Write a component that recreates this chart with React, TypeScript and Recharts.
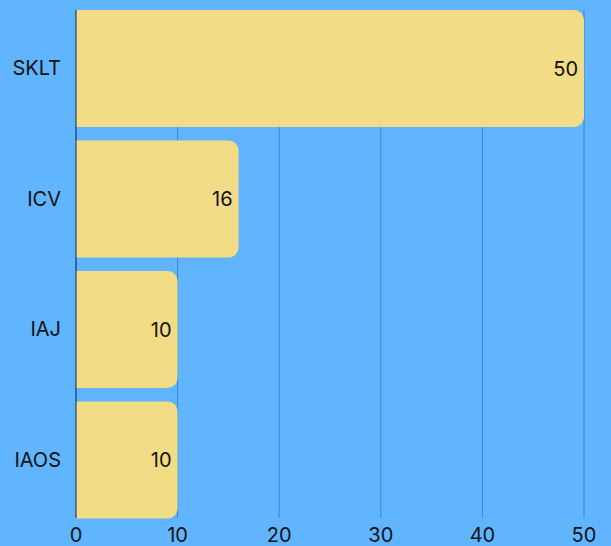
import { BarChart, Bar, XAxis, YAxis, CartesianGrid, LabelList } from 'recharts'

const categories = ['SKLT', 'ICV', 'IAJ', 'IAOS']
const counts = [50, 16, 10, 10]
const xTicks = [0, 10, 20, 30, 40, 50]

const data = categories.map((name, i) => ({ name, value: counts[i] }))

export default function App() {
  return (
    <div style={{ position: 'absolute', left: 0, top: 0, width: 611, height: 546, background: '#60b5fe', fontFamily: 'Inter, sans-serif' }}>
      <BarChart
        width={611}
        height={546}
        data={data}
        layout="vertical"
        margin={{ top: 10, right: 27, bottom: 0, left: 0 }}
        barSize={117}
      >
        <CartesianGrid horizontal={false} stroke="#3f86c4" />
        <XAxis
          type="number"
          domain={[0, 50]}
          ticks={xTicks}
          axisLine={false}
          tickLine={false}
          tickSize={0}
          tickMargin={10}
          height={28}
          tick={{ fill: '#111', fontSize: 20 }}
        />
        <YAxis
          type="category"
          dataKey="name"
          width={76}
          padding={{ top: -7, bottom: -7 }}
          axisLine={{ stroke: '#1d3550' }}
          tickLine={false}
          tickSize={0}
          tickMargin={15}
          tick={{ fill: '#111', fontSize: 20 }}
        />
        <Bar dataKey="value" fill="#f3dc86" radius={[0, 10, 10, 0]} isAnimationActive={false}>
          <LabelList dataKey="value" position="insideRight" offset={6} fill="#111" fontSize={20} />
        </Bar>
      </BarChart>
    </div>
  )
}
